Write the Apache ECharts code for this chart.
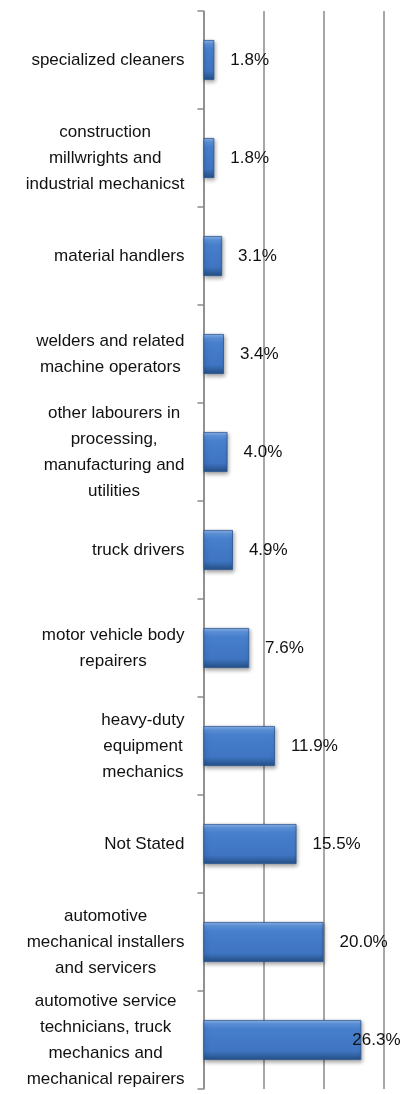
<!DOCTYPE html>
<html>
<head>
<meta charset="utf-8">
<script src="https://cdn.jsdelivr.net/npm/echarts@6/dist/echarts.min.js"></script>
<style>
  html, body { margin: 0; padding: 0; background: #fff; }
  #main { width: 406px; height: 1094px; }
</style>
</head>
<body>
<div id="main"></div>
<script>
// occupations, top to bottom
var categories = [
    'specialized cleaners',
    'construction\nmillwrights and\nindustrial mechanicst',
    'material handlers',
    'welders and related\nmachine operators',
    'other labourers in\nprocessing,\nmanufacturing and\nutilities',
    'truck drivers',
    'motor vehicle body\nrepairers',
    'heavy-duty\nequipment\nmechanics',
    'Not Stated',
    'automotive\nmechanical installers\nand servicers',
    'automotive service\ntechnicians, truck\nmechanics and\nmechanical repairers'
];
var shares = [1.8, 1.8, 3.1, 3.4, 4.0, 4.9, 7.6, 11.9, 15.5, 20.0, 26.3];
var xTicks = [0, 10, 20, 30];

var myChart = echarts.init(document.getElementById('main'));

var barColor = new echarts.graphic.LinearGradient(0, 0, 0, 1, [
    { offset: 0, color: '#8fbaf0' },
    { offset: 0.1, color: '#5c93dc' },
    { offset: 0.22, color: '#487fcc' },
    { offset: 0.78, color: '#3e74c1' },
    { offset: 0.9, color: '#30609f' },
    { offset: 1, color: '#254f88' }
]);

var barData = shares.map(function (v, i) {
    var item = { value: v };
    // last label gets pushed back inside the plot like the original
    if (i === shares.length - 1) {
        item.label = { offset: [-25, 0] };
    }
    return item;
});

var font = 'Liberation Sans, Arial, sans-serif';

var option = {
    animation: false,
    grid: {
        left: 203.5,
        right: 22.5,
        top: 11,
        bottom: 5,
        containLabel: false
    },
    xAxis: {
        type: 'value',
        min: xTicks[0],
        max: xTicks[xTicks.length - 1],
        interval: 10,
        axisLine: { show: false },
        axisTick: { show: false },
        axisLabel: { show: false },
        splitLine: {
            show: true,
            lineStyle: { color: '#8a8a8a', width: 1.5 }
        }
    },
    yAxis: {
        type: 'category',
        inverse: true,
        data: categories,
        axisLine: {
            show: true,
            lineStyle: { color: '#8a8a8a', width: 1.5 }
        },
        axisTick: {
            show: true,
            length: 6,
            lineStyle: { color: '#8a8a8a', width: 1.5 }
        },
        axisLabel: {
            margin: 19,
            align: 'right',
            formatter: function (val) {
                return val.split('\n').map(function (s) {
                    return '{a|' + s + '}';
                }).join('\n');
            },
            rich: {
                a: {
                    align: 'center',
                    fontFamily: font,
                    fontSize: 17,
                    lineHeight: 26,
                    color: '#111'
                }
            }
        }
    },
    series: [
        {
            type: 'bar',
            data: barData,
            barWidth: 40,
            itemStyle: {
                color: barColor,
                borderColor: '#2b5590',
                borderWidth: 0.8,
                shadowColor: 'rgba(0,0,0,0.35)',
                shadowBlur: 4,
                shadowOffsetX: 1,
                shadowOffsetY: 2
            },
            label: {
                show: true,
                position: 'right',
                distance: 16,
                formatter: function (p) {
                    return p.value.toFixed(1) + '%';
                },
                fontFamily: font,
                fontSize: 17,
                color: '#111'
            }
        }
    ]
};

myChart.setOption(option);
</script>
</body>
</html>
